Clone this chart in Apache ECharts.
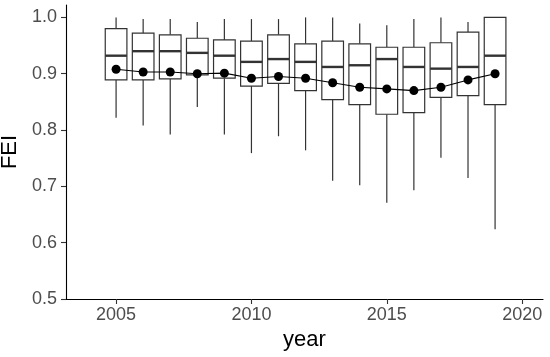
<!DOCTYPE html>
<html>
<head>
<meta charset="utf-8">
<script src="https://cdn.jsdelivr.net/npm/echarts@6/dist/echarts.min.js"></script>
<style>html,body{margin:0;padding:0;background:#fff}#c{width:550px;height:357px}</style>
</head>
<body>
<div id="c"></div>
<script>
var years = [2005,2006,2007,2008,2009,2010,2011,2012,2013,2014,2015,2016,2017,2018,2019];
var whiskerLow = [0.822,0.808,0.792,0.841,0.792,0.759,0.789,0.764,0.710,0.702,0.671,0.693,0.751,0.715,0.624];
var q1 =        [0.889,0.889,0.891,0.898,0.892,0.878,0.883,0.870,0.854,0.845,0.828,0.831,0.858,0.861,0.845];
var median =    [0.932,0.940,0.940,0.937,0.932,0.921,0.926,0.921,0.912,0.915,0.926,0.912,0.909,0.912,0.932];
var q3 =        [0.980,0.972,0.969,0.963,0.960,0.958,0.969,0.953,0.958,0.953,0.947,0.947,0.955,0.974,1.000];
var whiskerHigh=[1.000,0.997,0.997,0.992,0.997,0.997,0.997,1.000,1.000,0.989,0.986,0.997,1.000,0.992,1.000];
var means =     [0.908,0.903,0.903,0.900,0.901,0.892,0.895,0.892,0.884,0.876,0.873,0.870,0.876,0.889,0.900];
var xTicks = [2005,2010,2015,2020];
var yTicks = [0.5,0.6,0.7,0.8,0.9,1.0];

var boxData = years.map(function(y,i){return [y, whiskerLow[i], q1[i], median[i], q3[i], whiskerHigh[i]];});
var meanData = years.map(function(y,i){return [y, means[i]];});

var chart = echarts.init(document.getElementById('c'), null, {renderer:'canvas'});
var stroke = '#333333';
chart.setOption({
  animation:false,
  backgroundColor:'#ffffff',
  grid:{left:66,right:7,top:5,bottom:58,containLabel:false,outerBoundsMode:'none'},
  xAxis:{
    type:'value', min:2003.15, max:2020.77,
    name:'year', nameLocation:'middle', nameGap:30,
    nameTextStyle:{fontFamily:'Liberation Sans',fontSize:22,color:'#000'},
    axisLine:{show:true,onZero:false,lineStyle:{color:'#000',width:1.1}},
    axisTick:{show:true,length:5,lineStyle:{color:'#333',width:1.1},customValues:xTicks},
    axisLabel:{fontFamily:'Liberation Sans',fontSize:18,color:'#4d4d4d',margin:7,customValues:xTicks,formatter:function(v){return String(v);}},
    splitLine:{show:false}
  },
  yAxis:{
    type:'value', min:0.5, max:1.022,
    name:'FEI', nameLocation:'middle', nameGap:39, nameRotate:90,
    nameTextStyle:{fontFamily:'Liberation Sans',fontSize:22,color:'#000'},
    axisLine:{show:true,onZero:false,lineStyle:{color:'#000',width:1.1}},
    axisTick:{show:true,length:5,lineStyle:{color:'#333',width:1.1},customValues:yTicks},
    axisLabel:{fontFamily:'Liberation Sans',fontSize:18,color:'#4d4d4d',margin:9,customValues:yTicks,formatter:function(v){return v.toFixed(1);}},
    splitLine:{show:false}
  },
  series:[
    {
      type:'custom',
      data:boxData,
      encode:{x:0,y:[1,2,3,4,5]},
      renderItem:function(params, api){
        var x = api.value(0);
        var w = api.size([0.8,0])[0];
        var pMin = api.coord([x, api.value(1)]);
        var pQ1 = api.coord([x, api.value(2)]);
        var pMed = api.coord([x, api.value(3)]);
        var pQ3 = api.coord([x, api.value(4)]);
        var pMax = api.coord([x, api.value(5)]);
        var cx = pMed[0], l = cx - w/2;
        var ls = {stroke:stroke, lineWidth:1.2};
        return {type:'group', children:[
          {type:'line', shape:{x1:cx,y1:pQ3[1],x2:cx,y2:pMax[1]}, style:ls},
          {type:'line', shape:{x1:cx,y1:pQ1[1],x2:cx,y2:pMin[1]}, style:ls},
          {type:'rect', shape:{x:l,y:pQ3[1],width:w,height:pQ1[1]-pQ3[1]}, style:{fill:'#fff',stroke:stroke,lineWidth:1.2}},
          {type:'line', shape:{x1:l,y1:pMed[1],x2:l+w,y2:pMed[1]}, style:{stroke:stroke,lineWidth:2.4}}
        ]};
      },
      z:1
    },
    {
      type:'line',
      data:meanData,
      symbol:'circle', symbolSize:9,
      itemStyle:{color:'#000'},
      lineStyle:{color:'#000',width:1.1},
      z:3
    }
  ]
});
</script>
</body>
</html>
